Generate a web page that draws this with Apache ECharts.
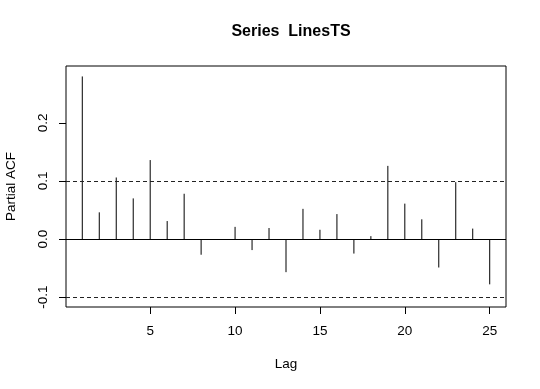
<!DOCTYPE html>
<html>
<head>
<meta charset="utf-8">
<script src="https://cdn.jsdelivr.net/npm/echarts@6/dist/echarts.min.js"></script>
<style>
html,body{margin:0;padding:0;background:#fff;}
#chart{width:540px;height:389px;}
</style>
</head>
<body>
<div id="chart"></div>
<script>
const lags = [1,2,3,4,5,6,7,8,9,10,11,12,13,14,15,16,17,18,19,20,21,22,23,24,25];
const pacf = [0.280,0.046,0.106,0.070,0.136,0.031,0.078,-0.027,0.000,0.021,-0.019,0.019,-0.057,0.052,0.016,0.043,-0.025,0.005,0.126,0.061,0.034,-0.049,0.098,0.018,-0.078];
const ciLimit = 0.1016;
const xTicks = [5,10,15,20,25];
const yTicks = [-0.1,0.0,0.1,0.2];
const titleText = 'Series  LinesTS';

const FONT = 'Liberation Sans, Arial, sans-serif';
const chart = echarts.init(document.getElementById('chart'), null, {renderer:'canvas'});
const data = lags.map((l,i)=>[l,pacf[i]]);

chart.setOption({
  animation:false,
  backgroundColor:'#fff',
  title:{
    text:titleText, left:286, top:19, textAlign:'center',
    textStyle:{fontFamily:FONT,fontSize:16,fontWeight:'bold',color:'#000'}
  },
  grid:{left:66,right:34,top:66,bottom:82,containLabel:false,outerBoundsMode:'none',
    show:true,borderColor:'#000',borderWidth:1,backgroundColor:'transparent'},
  xAxis:{
    type:'value', min:0.04, max:25.96, position:'bottom',
    name:'Lag', nameLocation:'middle', nameGap:50,
    nameTextStyle:{fontFamily:FONT,fontSize:13.5,color:'#000'},
    axisLine:{show:false,onZero:false},
    splitLine:{show:false},
    axisTick:{show:true,inside:false,length:7,customValues:xTicks,lineStyle:{color:'#000'}},
    axisLabel:{customValues:xTicks,margin:17,fontFamily:FONT,fontSize:13.5,color:'#000'}
  },
  yAxis:{
    type:'value', min:-0.117, max:0.298, position:'left',
    name:'Partial ACF', nameLocation:'middle', nameGap:48, nameRotate:90,
    nameTextStyle:{fontFamily:FONT,fontSize:13.5,color:'#000'},
    axisLine:{show:false,onZero:false},
    splitLine:{show:false},
    axisTick:{show:true,inside:false,length:7,customValues:yTicks,lineStyle:{color:'#000'}},
    axisLabel:{customValues:yTicks,rotate:90,margin:16,fontFamily:FONT,fontSize:13.5,color:'#000',
      formatter:v=>Number(v).toFixed(1)}
  },
  series:[{
    type:'custom',
    data:data,
    renderItem:function(params,api){
      const p0 = api.coord([api.value(0),0]);
      const p1 = api.coord([api.value(0),api.value(1)]);
      return {type:'line',shape:{x1:p0[0],y1:p0[1],x2:p1[0],y2:p1[1]},style:{stroke:'#000',lineWidth:1}};
    },
    markLine:{
      silent:true, symbol:'none', label:{show:false},
      data:[
        {yAxis:0, lineStyle:{type:'solid',color:'#000',width:1}},
        {yAxis:ciLimit, lineStyle:{type:[4,3],color:'#222',width:1}},
        {yAxis:-ciLimit, lineStyle:{type:[4,3],color:'#222',width:1}}
      ]
    }
  }]
});
</script>
</body>
</html>
